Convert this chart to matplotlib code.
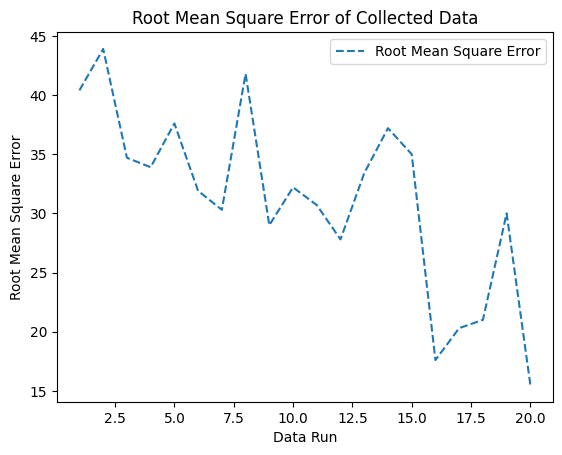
import matplotlib
matplotlib.use("Agg")
import matplotlib.pyplot as plt

# values
data_runs = list(range(1, 21))
rmse = [40.4, 43.9, 34.7, 33.9, 37.6, 31.9, 30.3, 41.8, 29.0, 32.2,
        30.7, 27.8, 33.4, 37.2, 35.0, 17.6, 20.3, 21.0, 30.0, 15.5]

plt.figure(figsize=(6.4, 4.8))
plt.plot(data_runs, rmse, linestyle="--", label="Root Mean Square Error")
plt.title("Root Mean Square Error of Collected Data")
plt.xlabel("Data Run")
plt.ylabel("Root Mean Square Error")
plt.legend()
plt.savefig("out.png", dpi=100, bbox_inches="tight")
